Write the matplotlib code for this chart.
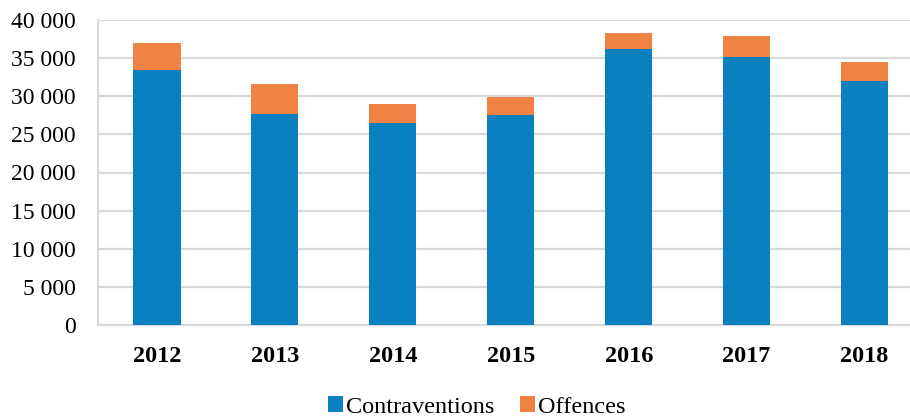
import numpy as np
import matplotlib
matplotlib.use('Agg')
import matplotlib.pyplot as plt
from matplotlib.ticker import FuncFormatter

years = ['2012', '2013', '2014', '2015', '2016', '2017', '2018']
contraventions = [33400, 27700, 26500, 27550, 36180, 35170, 32060]
offences = [3600, 3900, 2500, 2400, 2140, 2670, 2490]

plt.rcParams['font.family'] = ['Liberation Serif', 'DejaVu Serif']

fig = plt.figure(figsize=(9.1, 4.16), dpi=100)
ax = fig.add_axes([98/910, 91/416, 1 - 98/910, 305/416])

x = np.arange(len(years))
w = 0.4
ax.bar(x, contraventions, w, color='#0B80C1', label='Contraventions', zorder=3)
ax.bar(x, offences, w, bottom=contraventions, color='#F08343', label='Offences', zorder=3)

ax.set_ylim(0, 40000)
ax.set_yticks(np.arange(0, 40001, 5000))
ax.yaxis.set_major_formatter(FuncFormatter(lambda v, p: f'{int(v):,}'.replace(',', ' ')))
ax.set_xlim(-0.5, 6.385)
ax.set_xticks(x)
ax.set_xticklabels(years, fontsize=17.5, fontweight='bold')
ax.tick_params(axis='x', length=0, pad=15)
ax.tick_params(axis='y', length=0, pad=16, labelsize=17)
ax.grid(axis='y', color='#d9d9d9', linewidth=1.6, zorder=0)
for s in ['top', 'right']:
    ax.spines[s].set_visible(False)
ax.spines['left'].set_color('#d9d9d9')
ax.spines['bottom'].set_color('#d9d9d9')
ax.spines['left'].set_linewidth(1.6)
ax.spines['bottom'].set_linewidth(1.6)

fig.legend(loc='center', bbox_to_anchor=(477/910, 9/416), ncol=2, frameon=False,
           fontsize=17.5, handlelength=0.6, handleheight=0.6, handletextpad=0.15, columnspacing=1.05,
           borderpad=0, borderaxespad=0)

fig.savefig('out.png', dpi=100)
